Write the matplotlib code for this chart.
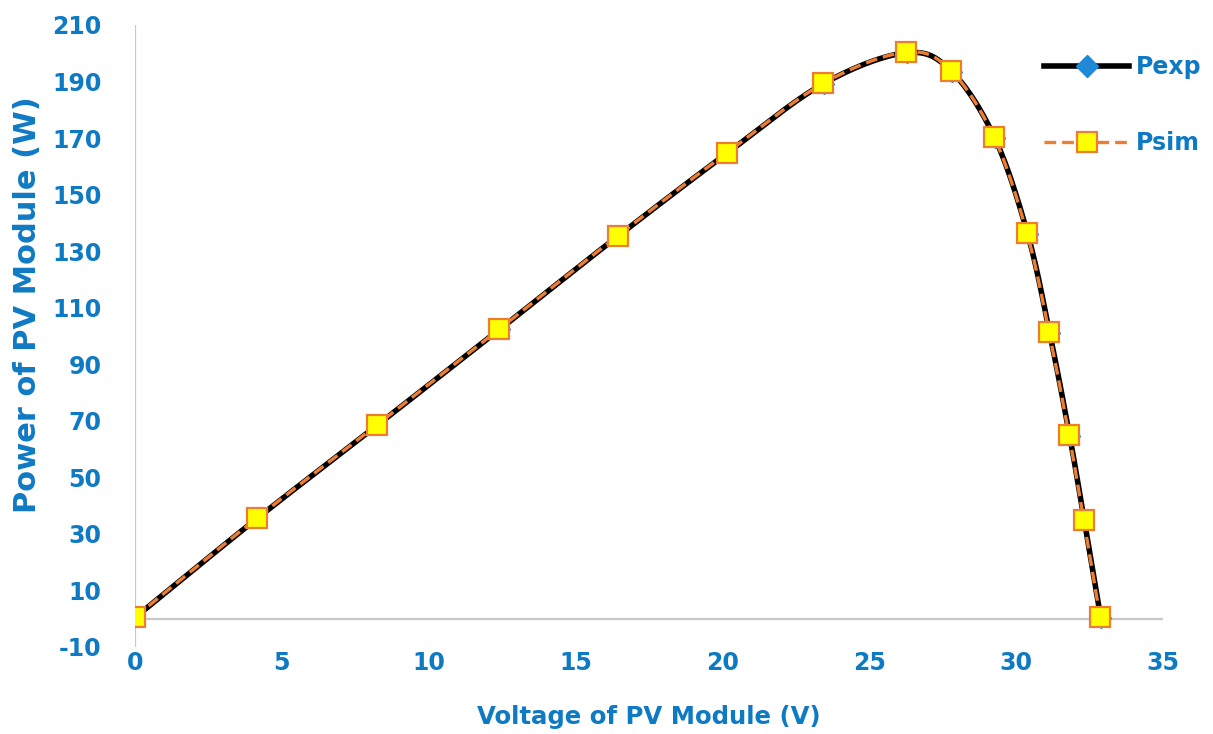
import numpy as np
import matplotlib
matplotlib.use("Agg")
import matplotlib.pyplot as plt
from matplotlib.lines import Line2D

plt.rcParams['axes.unicode_minus'] = False

# ---- data ----
v_sim = [0.0, 4.15, 8.23, 12.41, 16.43, 20.14, 23.44, 26.26, 27.79, 29.25, 30.37, 31.12, 31.80, 32.30, 32.86]
p_sim = [0.6, 35.6, 68.5, 102.5, 135.4, 164.7, 189.4, 200.4, 193.7, 170.3, 136.4, 101.4, 65.0, 35.0, 0.6]
v_exp = [0.01, 4.16, 8.24, 12.42, 16.44, 20.15, 23.45, 26.28, 27.81, 29.27, 30.39, 31.14, 31.82, 32.32, 32.88]
p_exp = [0.5, 35.5, 68.4, 102.4, 135.3, 164.6, 189.3, 200.2, 193.5, 170.1, 136.2, 101.2, 64.8, 34.8, 0.4]
x_ticks = [0, 5, 10, 15, 20, 25, 30, 35]
y_ticks = [-10, 10, 30, 50, 70, 90, 110, 130, 150, 170, 190, 210]

BLUE = '#0F7AC4'
ORANGE = '#ED7D31'
GRID = '#C8C8C8'


def smooth(x, y, n=30):
    """Catmull-Rom style smoothing (like Excel's smoothed line)."""
    x = np.asarray(x, float)
    y = np.asarray(y, float)
    px = np.concatenate([[2 * x[0] - x[1]], x, [2 * x[-1] - x[-2]]])
    py = np.concatenate([[2 * y[0] - y[1]], y, [2 * y[-1] - y[-2]]])
    xs, ys = [], []
    t = np.linspace(0, 1, n)
    for i in range(1, len(px) - 2):
        p0, p1, p2, p3 = (np.array([px[j], py[j]]) for j in range(i - 1, i + 3))
        c1 = p1 + (p2 - p0) / 6.0
        c2 = p2 - (p3 - p1) / 6.0
        b = ((1 - t) ** 3)[:, None] * p1 + (3 * (1 - t) ** 2 * t)[:, None] * c1 \
            + (3 * (1 - t) * t ** 2)[:, None] * c2 + (t ** 3)[:, None] * p2
        xs.append(b[:, 0])
        ys.append(b[:, 1])
    return np.concatenate(xs), np.concatenate(ys)


fig = plt.figure(figsize=(12.13, 7.34), dpi=100)
ax = fig.add_axes([135 / 1213, 1 - 647 / 734, (1163 - 135) / 1213, (647 - 25) / 734])

ax.set_xlim(0, 35)
ax.set_ylim(-10, 210)

for s in ax.spines.values():
    s.set_visible(False)
ax.axhline(0, color=GRID, lw=1.6, zorder=1)
ax.axvline(0, color=GRID, lw=1.6, zorder=1)

ex, ey = smooth(v_exp, p_exp)
sx, sy = smooth(v_sim, p_sim)

ax.plot(ex, ey, color='black', lw=4.0, solid_capstyle='round', zorder=2)
ax.plot(v_exp, p_exp, ls='none', marker='D', ms=10, color='#1E8AD6', zorder=3)
ax.plot(sx, sy, color=ORANGE, lw=2.4, dashes=(3.5, 1.8), zorder=4)
ax.plot(v_sim, p_sim, ls='none', marker='s', ms=14, mfc='#FFFF00', mec=ORANGE, mew=1.6, zorder=5)

ax.set_xticks(x_ticks)
ax.set_yticks(y_ticks)
ax.tick_params(axis='both', length=0, labelsize=17, labelcolor=BLUE)
ax.tick_params(axis='y', pad=24)
ax.tick_params(axis='x', pad=3)
for lab in ax.get_xticklabels() + ax.get_yticklabels():
    lab.set_fontweight('bold')

fig.text((475 + 822) / 2 / 1213, 1 - 717 / 734, 'Voltage of PV Module (V)',
         ha='center', va='center', fontsize=17.6, fontweight='bold', color=BLUE)
fig.text(28 / 1213, 1 - 305 / 734, 'Power of PV Module (W)', rotation=90,
         ha='center', va='center', fontsize=22, fontweight='bold', color=BLUE)

h1 = Line2D([], [], color='black', lw=4.0, marker='D', ms=11, mfc='#1E8AD6', mec='#1E8AD6')
h2 = Line2D([], [], color=ORANGE, lw=2.4, dashes=(3.5, 1.8), marker='s', ms=14,
            mfc='#FFFF00', mec=ORANGE, mew=1.6)
leg = fig.legend([h1, h2], ['Pexp', 'Psim'], loc='upper left',
                 bbox_to_anchor=(1023 / 1213, 1 - 34 / 734), frameon=False,
                 handlelength=3.6, handletextpad=0.3, labelspacing=2.2,
                 prop={'size': 17, 'weight': 'bold'})
for t in leg.get_texts():
    t.set_color(BLUE)

fig.savefig('out.png', dpi=100)
